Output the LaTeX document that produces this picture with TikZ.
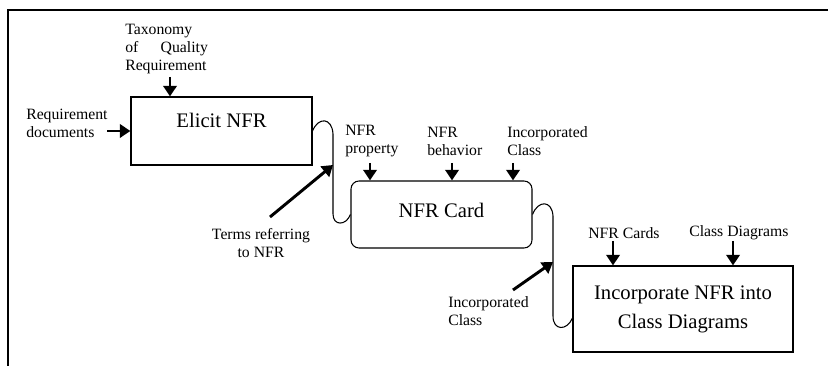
\documentclass[tikz,border=0pt]{standalone}
\usepackage{fontspec}
\setmainfont{Liberation Serif}
\usetikzlibrary{arrows.meta,calc}
\begin{document}
\begin{tikzpicture}[x=0.75pt,y=-0.75pt,
  lbl/.style={font=\fontsize{11.8}{13.5}\selectfont, inner sep=0pt, align=left},
  box/.style={draw, line width=0.8pt, font=\fontsize{15.5}{21.75}\selectfont, inner sep=0pt},
  arr/.style={line width=2.2pt, -{Triangle[width=10pt,length=8pt]}},
  conn/.style={line width=0.8pt}]
\useasboundingbox (0,0) rectangle (828,366);
\draw[line width=1.5pt] (8,366) -- (8,10) -- (828,10);

% boxes
\node[box, minimum width=135.75pt, minimum height=51pt, text depth=15.4pt] (elicit) at (221.5,131) {Elicit NFR\hspace{12pt}};
\node[box, rounded corners=6pt, minimum width=135.75pt, minimum height=50.25pt, text depth=6.8pt] (card) at (441.5,214.5) {NFR Card};
\node[box, align=center, minimum width=165pt, minimum height=64.5pt] (inc) at (683,309) {Incorporate NFR into\\Class Diagrams};

% labels
\node[lbl, anchor=west] (reqdoc) at (26,123) {Requirement\\documents};
\node[lbl, anchor=west, text width=62pt] (tax) at (125,49) {Taxonomy\\of\hfill Quality\\Requirement};
\node[lbl, anchor=west] (prop) at (345,141) {NFR\\property};
\node[lbl, anchor=west] (beh) at (427,141) {NFR\\behavior};
\node[lbl, anchor=west] (incc1) at (507,141) {Incorporated\\Class};
\node[lbl, align=center] (terms) at (261,243) {Terms referring\\to NFR};
\node[lbl, anchor=west] (incc2) at (448,311) {Incorporated\\Class};
\node[lbl, anchor=west] (cards) at (588,233) {NFR Cards};
\node[lbl, anchor=west] (cdiag) at (689,233) {Class Diagrams};

% arrow tails
\coordinate (tax-a) at (170,77);
\coordinate (req-a) at (107,131);
\coordinate (prop-a) at (370,163);
\coordinate (beh-a) at (452,163);
\coordinate (incc1-a) at (513,163);
\coordinate (cards-a) at (613,241);
\coordinate (cdiag-a) at (733,241);
\coordinate (terms-s) at (270,217);
\coordinate (terms-t) at (333,165);
\coordinate (incc2-s) at (513,290);
\coordinate (incc2-t) at (553,262);

% connectors between boxes
\draw[conn] (elicit.east) .. controls (318,117) and (332,117) .. (333,134) -- (333,214)
  .. controls (333,226) and (346,226) .. (card.west);
\draw[conn] (card.east) .. controls (538,200) and (552,200) .. (553,216) -- (553,316)
  .. controls (553,331) and (567,331) .. ($(inc.west)+(0,9)$);

% input arrows
\draw[arr] (tax-a) -- (tax-a |- elicit.north);
\draw[arr] (req-a) -- (req-a -| elicit.west);
\draw[arr] (prop-a) -- (prop-a |- card.north);
\draw[arr] (beh-a) -- (beh-a |- card.north);
\draw[arr] (incc1-a) -- (incc1-a |- card.north);
\draw[arr] (cards-a) -- (cards-a |- inc.north);
\draw[arr] (cdiag-a) -- (cdiag-a |- inc.north);
\draw[arr] (terms-s) -- (terms-t);
\draw[arr] (incc2-s) -- (incc2-t);
\end{tikzpicture}
\end{document}
